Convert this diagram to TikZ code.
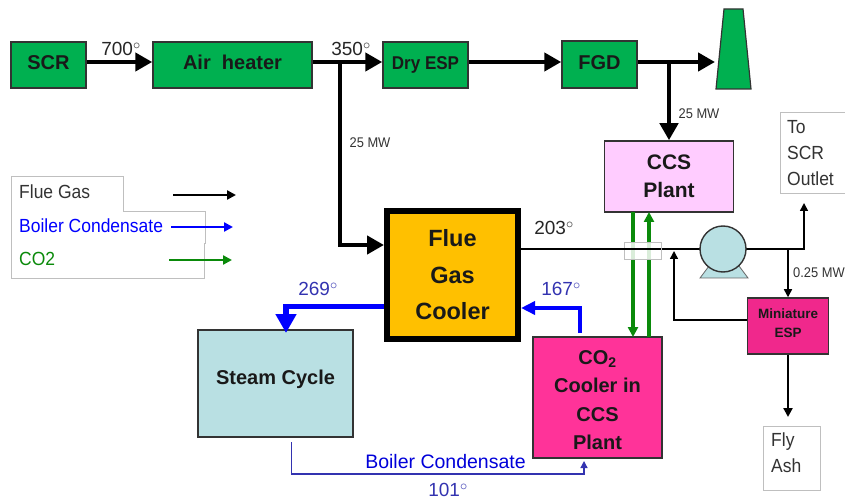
\documentclass[tikz,border=0pt]{standalone}
\usepackage{fontspec}
\setmainfont{Liberation Sans}
\newfontfamily\narrowf[FakeStretch=0.92]{Liberation Sans}
\usetikzlibrary{arrows.meta,calc}
\definecolor{gbox}{HTML}{00B050}
\definecolor{ccspink}{HTML}{FFCCFF}
\definecolor{orangeb}{HTML}{FFC000}
\definecolor{teal}{HTML}{B9E0E3}
\definecolor{hotpink}{HTML}{FF3399}
\definecolor{magb}{HTML}{F0288C}
\definecolor{blueb}{HTML}{0000FF}
\definecolor{greenb}{HTML}{0A8A0A}
\definecolor{navyt}{HTML}{3333B0}
\definecolor{greyt}{HTML}{333333}
\tikzset{
  x=1pt,y=-1pt,
  box/.style={draw=black!80,line width=1.5pt,inner sep=0pt,align=center,font=\bfseries,text=black!90},
  greenbox/.style={box,fill=gbox,font=\fontsize{20}{22}\selectfont\bfseries},
  plain/.style={inner sep=0pt,align=left,text=greyt},
  whitebox/.style={draw=black!25,line width=0.9pt,fill=white,inner sep=0pt},
  flue/.style={draw=black,line width=4.5pt,-{Triangle[length=17pt,width=18pt]}},
  thin line/.style={draw=black,line width=1.5pt},
  thin arrow/.style={thin line,-{Triangle[length=8pt,width=8pt]}},
  condense/.style={draw=blueb,line width=5.5pt},
  gas/.style={draw=greenb,line width=3.3pt},
  temp/.style={inner sep=0pt,font=\fontsize{19}{21}\selectfont},
  legendarrow/.style={line width=2.6pt,-{Triangle[length=9pt,width=9pt]}},
}
\newcommand{\dg}{\textsuperscript{\fontsize{15}{15}\selectfont$\circ$}}
\newcommand{\up}[1]{\raisebox{4.5pt}{#1}}
\begin{document}
\begin{tikzpicture}
\useasboundingbox (0,0) rectangle (845,502);
% legend
\draw[draw=black!25,line width=0.9pt,fill=white] (11,176) -- (123,176) -- (123,211) -- (205,211) -- (205,243) -- (204,243) -- (204,278) -- (11,278) -- cycle;
\node[plain,anchor=west,font=\narrowf\fontsize{19}{21}\selectfont] (lg1) at (19,192) {Flue Gas};
\node[plain,anchor=west,font=\narrowf\fontsize{19}{21}\selectfont,text=blueb] (lg2) at (19,226) {Boiler Condensate};
\node[plain,anchor=west,font=\narrowf\fontsize{19}{21}\selectfont,text=greenb] (lg3) at (19,259) {CO2};
\coordinate (la1) at (173,195); \coordinate (lb1) at (236,195);
\coordinate (la2) at (171,227); \coordinate (lb2) at (233,227);
\coordinate (la3) at (169,260); \coordinate (lb3) at (232,260);
\draw[legendarrow,black] (la1) -- (lb1);
\draw[legendarrow,blueb] (la2) -- (lb2);
\draw[legendarrow,greenb] (la3) -- (lb3);
% top row
\node[greenbox,minimum width=75pt,minimum height=46pt] (scr) at (48.5,65) {\up{SCR}};
\node[greenbox,minimum width=159pt,minimum height=46pt] (air) at (232.5,65) {\up{Air\ \ heater}};
\node[greenbox,minimum width=85pt,minimum height=46pt,font=\narrowf\fontsize{18.5}{20}\selectfont\bfseries] (esp) at (425.5,65) {\up{Dry ESP}};
\node[greenbox,minimum width=75pt,minimum height=47pt] (fgd) at (599.5,64.5) {\up{FGD}};
\fill[gbox,draw=black!80,line width=1.2pt] (724,9) -- (743,9) -- (751,89) -- (716,89) -- cycle;
\coordinate (stack) at (715,62);
% other boxes
\node[box,fill=ccspink,minimum width=129pt,minimum height=71pt,font=\fontsize{21}{28}\selectfont\bfseries] (ccs) at (669,176.5) {CCS\\Plant};
\node[box,fill=orangeb,draw=black,line width=6pt,minimum width=131pt,minimum height=128pt,font=\fontsize{23.5}{36.5}\selectfont\bfseries] (fgc) at (452.5,275) {Flue\\Gas\\Cooler};
\node[box,fill=teal,minimum width=155pt,minimum height=107pt] (steam) at (275.5,383.5) {};
\node[inner sep=0pt,font=\fontsize{20}{22}\selectfont\bfseries,text=black!90] (steamt) at (275.5,379) {Steam Cycle};
\node[box,fill=hotpink,minimum width=129pt,minimum height=121pt] (co2) at (597.5,397.5) {};
\node[inner sep=0pt,align=center,font=\fontsize{20}{28.5}\selectfont\bfseries,text=black!90] (co2t) at (597.5,400) {CO\textsubscript{2}\\Cooler in\\CCS\\Plant};
\node[box,fill=magb,minimum width=81pt,minimum height=56pt] (mini) at (788,326) {};
\node[inner sep=0pt,align=center,font=\fontsize{13.5}{19}\selectfont\bfseries,text=black!90] (minit) at (788,323) {Miniature\\ESP};
\node[whitebox,minimum width=67pt,minimum height=81pt] (scro) at (813.5,152.5) {};
\node[plain,anchor=west,font=\narrowf\fontsize{19}{26}\selectfont] (scrot) at (787,153) {To\\SCR\\Outlet};
\node[whitebox,minimum width=57pt,minimum height=64pt] (fly) at (791.5,458) {};
\node[plain,anchor=west,font=\narrowf\fontsize{19}{26}\selectfont] (flyt) at (771,453) {Fly\\Ash};
% flue connectors
\coordinate (b1) at (340,62);
\coordinate (b2) at (340,245);
\coordinate (b3) at (669,62);
\draw[flue] (scr.east|-0,62) -- (air.west|-0,62);
\draw[flue] (air.east|-0,62) -- (esp.west|-0,62);
\draw[flue] (esp.east|-0,62) -- (fgd.west|-0,62);
\draw[flue] (fgd.east|-0,62) -- (stack);
\draw[flue] (b3) -- (ccs.north);
\draw[flue] (b1) -- (b2) -- (fgc.west|-b2);
% gas line
\coordinate (sl) at (642.5,250.5);
\coordinate (j1) at (788,249);
\coordinate (j2) at (804,249);
\coordinate (up) at (804,203);
\coordinate (recl) at (674,320);
\coordinate (rect) at (674,251);
\draw[thin line] (fgc.east|-j1) -- (j1);
\draw[thin arrow] (j1) -- (j2) -- (up);
\draw[thin arrow] (j1) -- (j1|-mini.north);
\draw[thin arrow] (mini.west|-recl) -- (recl) -- (rect);
\draw[draw=black,line width=2.2pt,-{Triangle[length=9pt,width=9pt]}] (mini.south) -- (788,417);
% green
\coordinate (ga) at (633,212); \coordinate (gb) at (633,337);
\coordinate (gc) at (649,337); \coordinate (gd) at (649,212);
\draw[gas,-{Triangle[length=10pt,width=10pt]}] (ga) -- (gb);
\draw[gas,-{Triangle[length=10pt,width=10pt]}] (gc) -- (gd);
\node[draw=black!25,line width=0.8pt,fill=white,fill opacity=0.85,minimum width=37pt,minimum height=17pt,inner sep=0pt] (sleeve) at (sl) {};
\draw[thin line] (sleeve.west|-j1) -- (sleeve.east|-j1);
% pump
\fill[teal,draw=black!60,line width=0.8pt] (709,266) -- (700,278) -- (748,278) -- (739,266) -- cycle;
\node[circle,draw=black!80,line width=1.4pt,fill=teal,minimum size=46pt,inner sep=0pt] (pump) at (723,249) {};
% blue
\coordinate (c1) at (286,306.5);
\coordinate (c2) at (580,308);
\coordinate (c3) at (286,333);
\coordinate (c4) at (580,333);
\draw[condense,-{Triangle[length=19pt,width=20pt]}] (fgc.west|-c1) -- (c1) -- (c3);
\draw[condense,line width=4.5pt,-{Triangle[length=14pt,width=13pt]}] (c4) -- (c2) -- (fgc.east|-c2);
\coordinate (d1) at (291.5,442);
\coordinate (d2) at (291.5,474);
\coordinate (d3) at (584,474);
\coordinate (d4) at (584,461);
\draw[draw=navyt,line width=1.3pt,-{Triangle[length=7pt,width=7pt]}] (d1) -- (d2) -- (d3) -- (d4);
% labels
\node[temp,text=black!85] (t700) at (121,49) {700\dg};
\node[temp,text=black!85] (t350) at (351,49) {350\dg};
\node[temp,text=black!85] (t203) at (554,228) {203\dg};
\node[temp,text=navyt] (t269) at (318,289) {269\dg};
\node[temp,text=navyt] (t167) at (561,289) {167\dg};
\node[temp,text=navyt] (t101) at (448,490) {101\dg};
\node[temp,font=\fontsize{19.5}{21}\selectfont,text=blueb!85!black] (bc) at (445.5,462) {Boiler Condensate};
\node[plain,font=\narrowf\fontsize{14}{15}\selectfont] (mw1) at (370,143) {25 MW};
\node[plain,font=\narrowf\fontsize{14}{15}\selectfont] (mw2) at (699,114) {25 MW};
\node[plain,anchor=west,font=\narrowf\fontsize{14}{16}\selectfont] (mw3) at (793,273) {0.25 MW};
\end{tikzpicture}
\end{document}
